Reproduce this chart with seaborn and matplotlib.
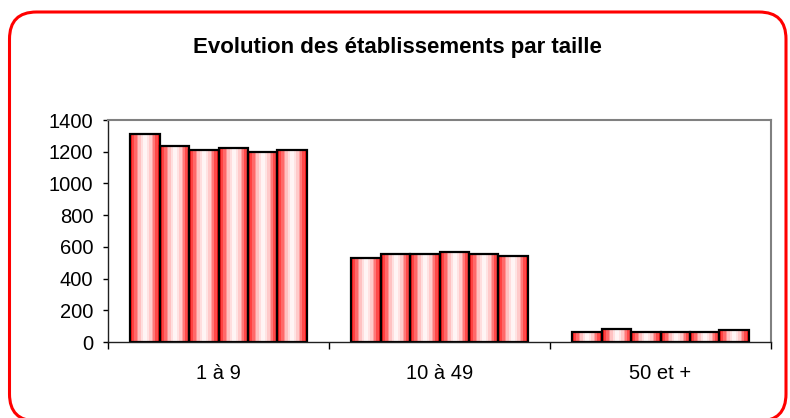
import numpy as np
import pandas as pd
import matplotlib
matplotlib.use("Agg")
import matplotlib.pyplot as plt
from matplotlib.colors import LinearSegmentedColormap
from matplotlib.patches import FancyBboxPatch
import seaborn as sns

# ---- data ----
categories = ["1 à 9", "10 à 49", "50 et +"]
series = ["S1", "S2", "S3", "S4", "S5", "S6"]
values_1_9 = [1312, 1236, 1209, 1221, 1198, 1209]
values_10_49 = [530, 555, 553, 568, 555, 544]
values_50 = [63, 79, 61, 61, 61, 78]
title = "Evolution des établissements par taille"
yticks = [0, 200, 400, 600, 800, 1000, 1200, 1400]

rows = []
for cat, vals in zip(categories, [values_1_9, values_10_49, values_50]):
    for s, v in zip(series, vals):
        rows.append({"categorie": cat, "serie": s, "valeur": v})
df = pd.DataFrame(rows)

sns.set_theme(style="white")
plt.rcParams["font.family"] = ["Liberation Sans", "DejaVu Sans"]
plt.rcParams["text.color"] = "black"
plt.rcParams["xtick.color"] = "black"
plt.rcParams["ytick.color"] = "black"
plt.rcParams["xtick.labelcolor"] = "black"
plt.rcParams["ytick.labelcolor"] = "black"

fig = plt.figure(figsize=(7.9, 4.18), dpi=100)
ax = fig.add_axes([108 / 790, 76 / 418, 663 / 790, 222 / 418])

sns.barplot(data=df, x="categorie", y="valeur", hue="serie",
            palette=["#ff0000"] * 6, width=0.8, legend=False, ax=ax,
            edgecolor="black", linewidth=1.6, saturation=1, errorbar=None)

cmap = LinearSegmentedColormap.from_list(
    "cyl", ["#ff1a1a", "#ff7070", "#ffd0d0", "#ffffff", "#ffd8d8", "#ff8080", "#ff1a1a"], N=14)
grad = np.linspace(0, 1, 64).reshape(1, -1)
for p in list(ax.patches):
    x0, w, h = p.get_x(), p.get_width(), p.get_height()
    im = ax.imshow(grad, extent=[x0, x0 + w, 0, h], aspect="auto", cmap=cmap,
                   zorder=p.get_zorder(), interpolation="nearest")
    im.set_clip_path(p)
    p.set_facecolor("none")
    p.set_zorder(p.get_zorder() + 0.5)

ax.set_xlim(-0.5, 2.5)
ax.set_ylim(0, 1400)
ax.set_yticks(yticks)
ax.set_yticklabels([str(t) for t in yticks], fontsize=14.5, color="black")
ax.set_xticks(range(len(categories)))
ax.set_xticklabels(categories, fontsize=14.5, color="black")
ax.set_xticks([-0.5, 0.5, 1.5, 2.5], minor=True)
ax.tick_params(axis="x", which="major", length=0, pad=16)
ax.tick_params(axis="x", which="minor", length=5, width=1, direction="out", color="black", bottom=True)
ax.tick_params(axis="y", length=3.5, width=1, direction="out", color="black", left=True, pad=7)
ax.set_xlabel("")
ax.set_ylabel("")
ax.grid(False)
for side in ["left", "bottom"]:
    ax.spines[side].set_color("#202020")
    ax.spines[side].set_linewidth(1.0)
for side in ["top", "right"]:
    ax.spines[side].set_color("#808080")
    ax.spines[side].set_linewidth(1.5)

fig.text(0.503, 1 - 48 / 418, title, ha="center", va="center",
         fontsize=16, fontweight="bold", color="black")

border = FancyBboxPatch((0.095, -0.03), 7.765, 4.09,
                        boxstyle="round,pad=0,rounding_size=0.27",
                        transform=fig.dpi_scale_trans, facecolor="none",
                        edgecolor="#ff0000", linewidth=2.2, zorder=10)
fig.patches.append(border)

fig.savefig("out.png", dpi=100)
